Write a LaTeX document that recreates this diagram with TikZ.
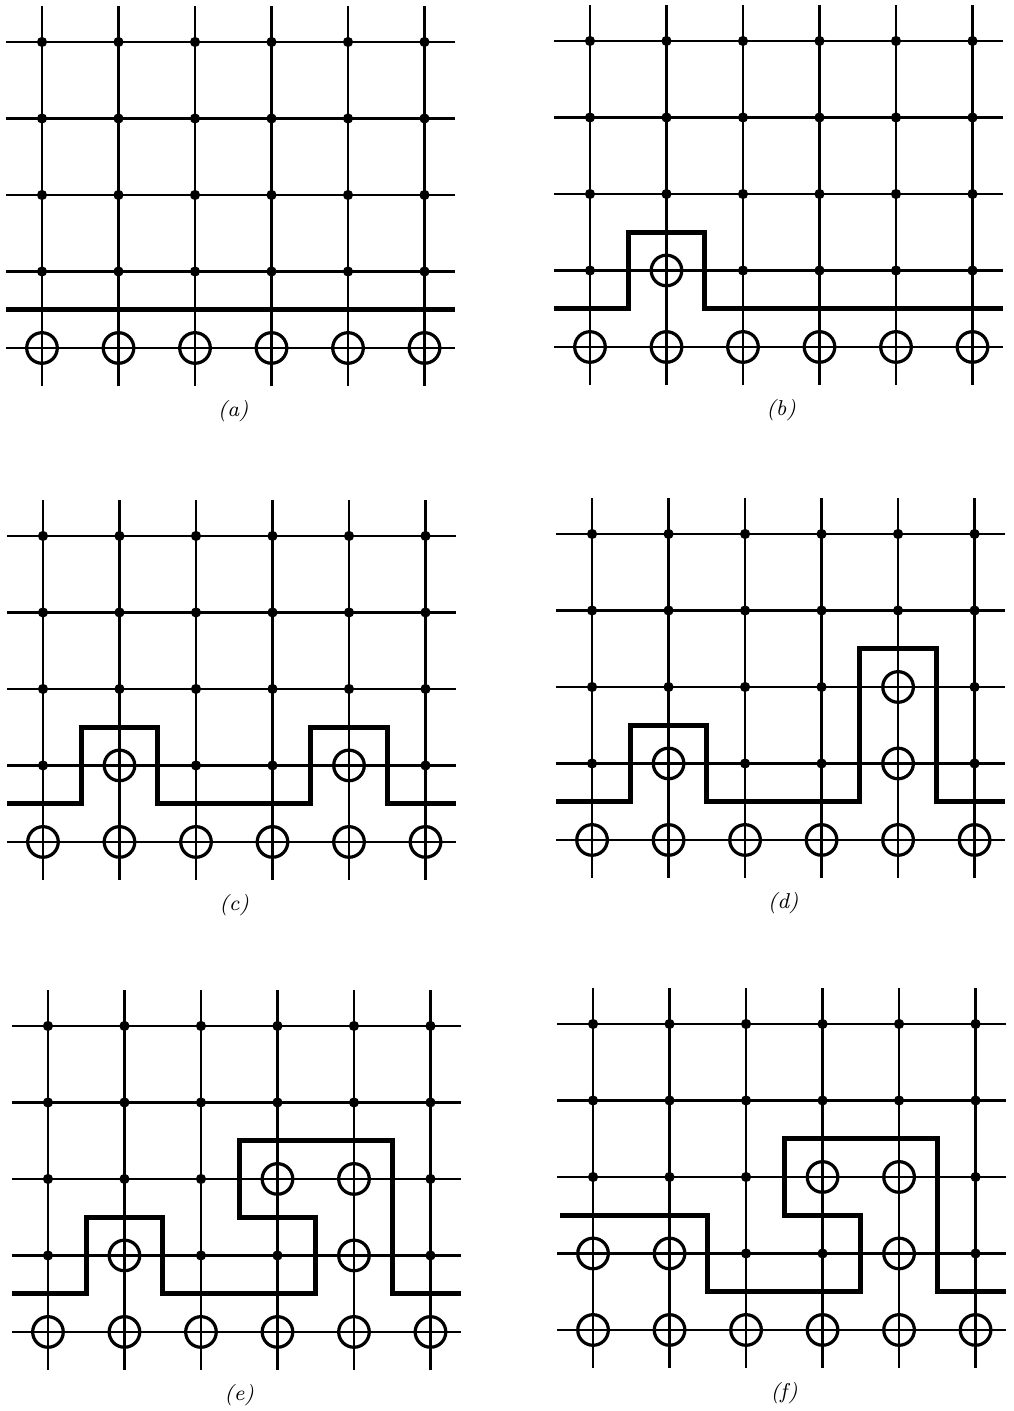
\documentclass[tikz,border=0pt]{standalone}
\usepackage{tikz}
\usetikzlibrary{calc}

\tikzset{
  gridln/.style={line width=1pt},
  wall/.style={line width=1.9pt},
  upsite/.style={line width=1.2pt}
}

% sites of rows 1-4: circle if listed in #1 (as i/j), dot otherwise; row 0 always circled
\makeatletter
\newcommand\latsites[1]{%
  \foreach \i in {0,...,5}{%
    \draw[upsite] (\i,0) circle (0.2);
    \foreach \j in {1,...,4}{%
      \edef\lat@tmp{\noexpand\in@{,\i/\j,}{,#1,}}\lat@tmp
      \ifin@ \draw[upsite] (\i,\j) circle (0.2);
      \else \fill (\i,\j) circle (1.9pt);
      \fi
    }%
  }%
}
\makeatother

% one panel: shift, circled sites, wall path, label
\newcommand\latpanel[4]{%
  \begin{scope}[shift={#1}]
    \foreach \i in {0,...,5} \draw[gridln] (\i,-0.5) -- (\i,4.47);
    \foreach \j in {0,...,4} \draw[gridln] (-0.47,\j) -- (5.4,\j);
    \draw[wall] #3;
    \latsites{#2}
    \node[font=\footnotesize] (lab#4) at (2.5,-0.83) {\textit{(#4)}};
  \end{scope}}

\begin{document}
\begin{tikzpicture}
  \useasboundingbox (0,0) rectangle (13.242,18.444);
  \latpanel{(0.549,13.895)}{}{(-0.47,0.5) -- (5.4,0.5)}{a}
  \latpanel{(7.712,13.908)}{1/1}%
    {(-0.47,0.5) -| (0.5,1.5) -| (1.5,0.5) -- (5.4,0.5)}{b}
  \latpanel{(0.562,7.438)}{1/1,4/1}%
    {(-0.47,0.5) -| (0.5,1.5) -| (1.5,0.5) -| (3.5,1.5) -| (4.5,0.5) -- (5.4,0.5)}{c}
  \latpanel{(7.739,7.464)}{1/1,4/1,4/2}%
    {(-0.47,0.5) -| (0.5,1.5) -| (1.5,0.5) -| (3.5,2.5) -| (4.5,0.5) -- (5.4,0.5)}{d}
  \latpanel{(0.627,1.033)}{1/1,3/2,4/2,4/1}%
    {(-0.47,0.5) -| (0.5,1.5) -| (1.5,0.5) -| (3.5,1.5) -| (2.5,2.5) -| (4.5,0.5) -- (5.4,0.5)}{e}
  \latpanel{(7.752,1.059)}{0/1,1/1,3/2,4/2,4/1}%
    {(-0.43,1.5) -| (1.5,0.5) -| (3.5,1.5) -| (2.5,2.5) -| (4.5,0.5) -- (5.4,0.5)}{f}
\end{tikzpicture}
\end{document}
